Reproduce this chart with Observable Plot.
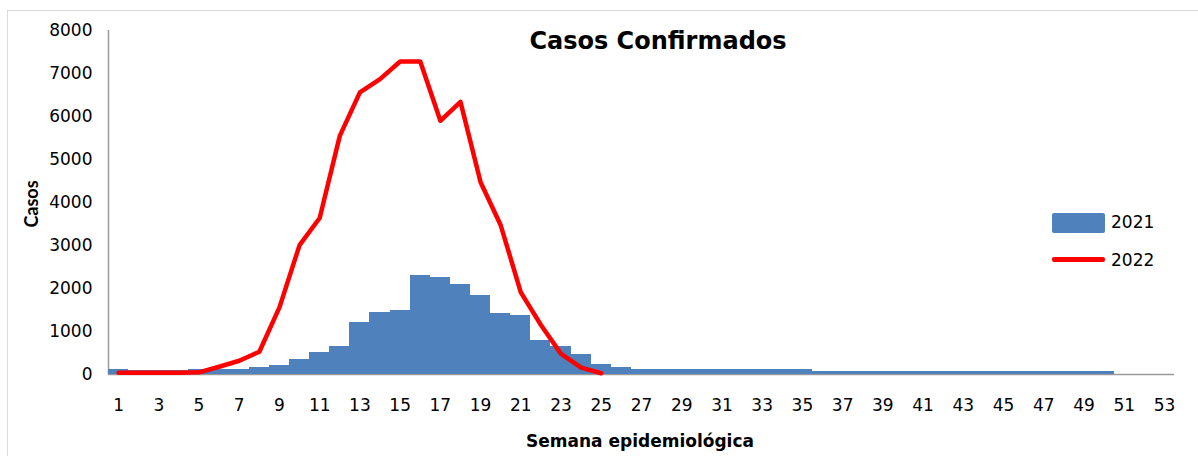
<!DOCTYPE html>
<html>
<head>
<meta charset="utf-8">
<script src="https://cdn.jsdelivr.net/npm/d3@7"></script>
<script src="https://cdn.jsdelivr.net/npm/@observablehq/plot@0.6"></script>
<style>
  html, body { margin: 0; padding: 0; background: #fff; }
  #wrap { position: relative; width: 1198px; height: 456px; overflow: hidden; font-family: "DejaVu Sans", sans-serif; color: #000; }
  #border { position: absolute; left: 7px; top: 10px; width: 1210px; height: 470px; border: 1.5px solid #d9d9d9; box-sizing: border-box; }
  #chart { position: absolute; left: 0; top: 0; }
  .lbl { position: absolute; white-space: nowrap; font-weight: bold; }
  #title { left: 658px; top: 41px; transform: translate(-50%, -50%); font-size: 24px; }
  #xlab { left: 640px; top: 441px; transform: translate(-50%, -50%); font-size: 17px; }
  #ylab { left: 31px; top: 204px; transform: translate(-50%, -50%) rotate(-90deg); font-size: 18px; font-family: Lato, sans-serif; }
  .leg { position: absolute; font-size: 17px; }
  .sw { position: absolute; }
</style>
</head>
<body>
<div id="wrap">
  <div id="border"></div>
  <div id="chart"></div>
  <div class="lbl" id="title">Casos Confirmados</div>
  <div class="lbl" id="xlab">Semana epidemiológica</div>
  <div class="lbl" id="ylab">Casos</div>
  <div class="sw" style="left:1052px;top:213px;width:53px;height:20px;background:#4F81BD;border-radius:2px;"></div>
  <div class="leg" style="left:1111px;top:212px;">2021</div>
  <div class="sw" style="left:1052px;top:257px;width:53px;height:4.5px;background:#ff0000;border-radius:2px;"></div>
  <div class="leg" style="left:1111px;top:250px;">2022</div>
</div>
<script>
// Semana epidemiológica
const weeks2021 = d3.range(1, 51);
const cases2021 = [
  110, 100, 100, 100, 110, 110, 120, 170, 200, 340,
  510, 660, 1200, 1450, 1500, 2300, 2250, 2085, 1840, 1410,
  1370, 790, 660, 460, 240, 170, 110, 110, 110, 110,
  110, 110, 110, 110, 110, 70, 70, 70, 70, 70,
  70, 70, 70, 70, 70, 70, 70, 70, 70, 70
];
const weeks2022 = d3.range(1, 26);
const cases2022 = [
  40, 40, 40, 40, 50, 180, 320, 530, 1560, 3010,
  3640, 5550, 6560, 6870, 7280, 7280, 5900, 6340, 4470, 3470,
  1910, 1150, 480, 160, 30
];
const xTicks = d3.range(1, 54, 2);
const yTicks = d3.range(0, 8001, 1000);

const data2021 = weeks2021.map((w, i) => ({week: w, v: cases2021[i]}));
const data2022 = weeks2022.map((w, i) => ({week: w, v: cases2022[i]}));

const chart = Plot.plot({
  width: 1198,
  height: 456,
  marginLeft: 108,
  marginRight: 24,
  marginTop: 30,
  marginBottom: 82,
  style: {fontFamily: "DejaVu Sans, sans-serif", fontSize: "17px", color: "#000", background: "transparent"},
  x: {type: "linear", domain: [0.5, 53.5]},
  y: {domain: [0, 8000]},
  marks: [
    Plot.ruleX([0.5], {y1: 0, y2: 8000, stroke: "#9a9a9a", strokeWidth: 1.5}),
    Plot.ruleY([0], {stroke: "#9a9a9a", strokeWidth: 1.5}),
    Plot.rect(data2021, {
      x1: d => d.week - 0.5, x2: d => d.week + 0.5,
      y1: () => 0, y2: "v",
      fill: "#4F81BD", shapeRendering: "crispEdges"
    }),
    Plot.line(data2022, {x: "week", y: "v", stroke: "#ff0000", strokeWidth: 4.5, strokeLinejoin: "round", strokeLinecap: "round"}),
    Plot.axisX({ticks: xTicks, tickSize: 0, tickPadding: 24, tickFormat: d => String(d), label: null, fontSize: 17}),
    Plot.axisY({ticks: yTicks, tickSize: 0, tickPadding: 16, tickFormat: d => String(d), label: null, fontSize: 17})
  ]
});
document.getElementById("chart").appendChild(chart);
</script>
</body>
</html>
